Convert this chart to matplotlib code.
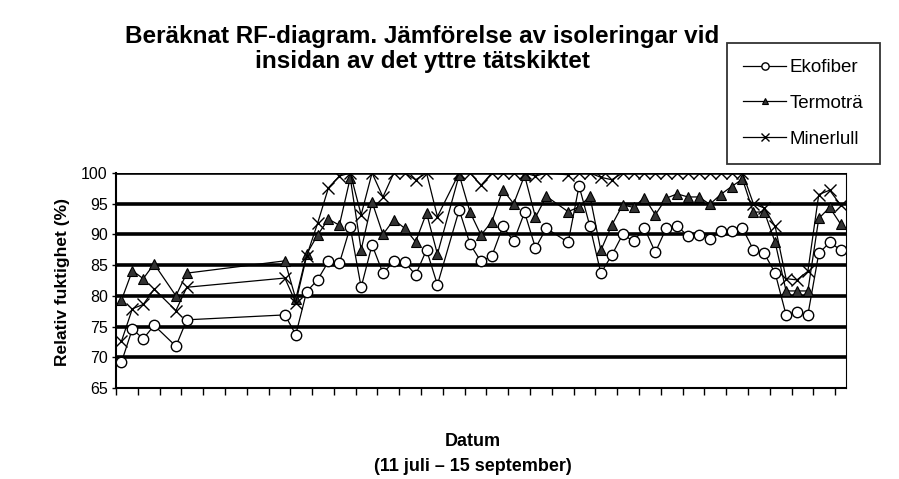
import numpy as np
import matplotlib
matplotlib.use("Agg")
import matplotlib.pyplot as plt

plt.rcParams['font.family'] = ['Liberation Sans', 'DejaVu Sans']

nan = np.nan
# Day index 0 = 11 juli ... 66 = 15 september
n_days = 67
ekofiber = [69.2, 74.6, 73.0, 75.2, nan, 71.8, 76.1, nan, nan, nan,
            nan, nan, nan, nan, nan, 76.9, 73.7, 80.7, 82.6, 85.6,
            85.3, 91.2, 81.4, 88.3, 83.7, 85.6, 85.5, 83.4, 87.5, 81.8,
            nan, 94.0, 88.4, 85.6, 86.5, 91.3, 88.9, 93.6, 87.8, 91.0,
            nan, 88.7, 97.9, 91.3, 83.7, 86.6, 90.0, 88.9, 91.0, 87.1,
            91.0, 91.3, 89.8, 89.9, 89.3, 90.6, 90.6, 91.0, 87.5, 86.9,
            83.7, 76.9, 77.4, 76.9, 86.9, 88.7, 87.5]
termotra = [79.3, 84.1, 82.8, 85.2, nan, 80.0, 83.7, nan, nan, nan,
            nan, nan, nan, nan, nan, 85.7, 79.5, 86.8, 89.9, 92.5,
            91.5, 99.2, 87.5, 95.3, 90.0, 92.4, 91.0, 88.8, 93.5, 86.8,
            nan, 99.7, 93.6, 89.9, 92.1, 97.3, 95.0, 99.6, 92.8, 96.2,
            nan, 93.7, 94.5, 96.2, 87.4, 91.5, 94.8, 94.4, 96.0, 93.2,
            95.9, 96.6, 96.1, 96.1, 94.9, 96.5, 97.8, 99.0, 93.6, 93.7,
            88.7, 80.8, 80.8, 80.8, 92.6, 94.4, 91.7]
minerlull = [72.6, 77.9, 78.6, 81.1, nan, 77.6, 81.4, nan, nan, nan,
             nan, nan, nan, nan, nan, 82.9, 78.9, 86.5, 91.8, 97.6,
             99.5, 100.0, 93.2, 100.0, 96.1, 100.0, 100.0, 98.9, 100.0, 92.9,
             nan, 100.0, 100.0, 98.0, 100.0, 100.0, 100.0, 100.0, 99.5, 100.0,
             nan, 99.7, 100.0, 100.0, 99.3, 98.9, 100.0, 100.0, 100.0, 100.0,
             100.0, 100.0, 100.0, 100.0, 100.0, 100.0, 100.0, 100.0, 95.0, 94.3,
             91.3, 82.8, 82.6, 84.0, 96.5, 97.2, 94.8]
series_names = ["Ekofiber", "Termoträ", "Minerlull"]
y_ticks = [65, 70, 75, 80, 85, 90, 95, 100]

title = "Beräknat RF-diagram. Jämförelse av isoleringar vid\ninsidan av det yttre tätskiktet"
ylabel = "Relativ fuktighet (%)"
xlabel = "Datum\n(11 juli – 15 september)"

fig = plt.figure(figsize=(8.99, 4.79), dpi=100)
ax = fig.add_axes([116/899, 1-388/479, (846-116)/899, (388-173)/479])

x_all = np.arange(n_days)
styles = [
    dict(marker='o', mfc='white', mec='black', ms=7.5, mew=1.0),
    dict(marker='^', mfc='#333333', mec='black', ms=6.5, mew=0.8),
    dict(marker='x', mec='black', ms=8, mew=1.0),
]
handles = []
for vals, name, st in zip([ekofiber, termotra, minerlull], series_names, styles):
    v = np.array(vals, dtype=float)
    m = ~np.isnan(v)
    h, = ax.plot(x_all[m], v[m], color='black', lw=0.9, label=name, zorder=3, **st)
    handles.append(h)

for yv in y_ticks[1:]:
    ax.axhline(yv, color='black', lw=2.6, zorder=1)

ax.set_xlim(-0.5, n_days - 0.5)
ax.set_ylim(65, 100)
ax.set_yticks(y_ticks)
ax.set_yticklabels([str(t) for t in y_ticks], fontsize=11.5)
ax.set_xticks(np.arange(-0.5, n_days - 0.5, 2))
ax.set_xticklabels([])
ax.tick_params(axis='x', direction='out', length=5, width=1)
ax.tick_params(axis='y', direction='out', length=3, width=1, pad=3)
for s in ['left', 'bottom']:
    ax.spines[s].set_linewidth(1.5)
ax.spines['right'].set_linewidth(0.8)
ax.spines['top'].set_visible(False)

fig.text(422/899, 1-49/479, title, ha='center', va='center', fontsize=17.5,
         fontweight='bold', linespacing=1.1)
fig.text(62/899, 1-282/479, ylabel, ha='center', va='center', rotation=90,
         fontsize=12.5, fontweight='bold')
fig.text(473/899, 1-454/479, xlabel, ha='center', va='center', fontsize=13,
         fontweight='bold', linespacing=1.65)

leg = fig.legend(handles=handles, labels=series_names, loc='upper left',
                 bbox_to_anchor=(727/899, 1-43/479), fontsize=13.5, frameon=True,
                 fancybox=False, edgecolor='black', handlelength=2.3,
                 handletextpad=0.2, labelspacing=1.0, borderpad=0.85,
                 markerscale=0.7, borderaxespad=0)
leg.get_frame().set_linewidth(1.3)

fig.savefig("out.png", dpi=100)
